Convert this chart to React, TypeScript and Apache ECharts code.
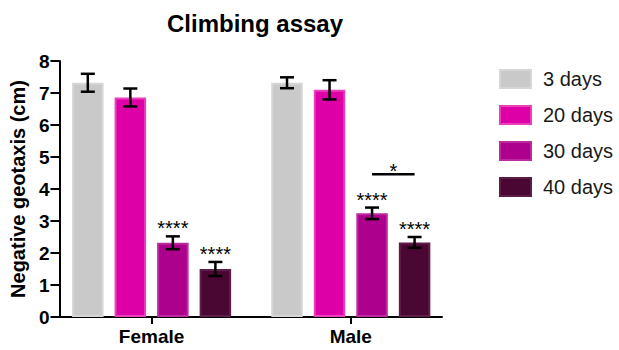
import React, { useEffect, useRef } from "react";
import * as echarts from "echarts";

const categories = ["Female", "Male"];
const seriesNames = ["3 days", "20 days", "30 days", "40 days"];
const meanValues = [
  [7.32, 7.32],
  [6.86, 7.1],
  [2.32, 3.24],
  [1.5, 2.33],
];
const errorValues = [
  [0.28, 0.17],
  [0.28, 0.3],
  [0.2, 0.18],
  [0.22, 0.17],
];
const starLabels = [
  ["", ""],
  ["", ""],
  ["****", "****"],
  ["****", "****"],
];
// comparison: [categoryIndex, seriesA, seriesB, y value, label]
const comparisons: [number, number, number, number, string][] = [[1, 2, 3, 4.46, "*"]];
const yMin = 0;
const yMax = 8;
const yInterval = 1;

const fillColors = ["#c9c9c9", "#de00a6", "#ad008c", "#4b0734"];
const borderColors = ["#d6d6d6", "#e93fbb", "#bb2a9e", "#5c1e47"];

const BAR_WIDTH = 31.5;
const BAR_GAP = 0.35;
const PITCH = BAR_WIDTH * (1 + BAR_GAP);
const FONT = "'Liberation Sans', Arial, Helvetica, sans-serif";

function offsetFor(s: number) {
  return (s - (seriesNames.length - 1) / 2) * PITCH;
}

export default function App() {
  const ref = useRef<HTMLDivElement>(null);
  useEffect(() => {
    if (!ref.current) return;
    const chart = echarts.init(ref.current, undefined, { renderer: "svg" });

    const barSeries = seriesNames.map((name, s) => ({
      name,
      type: "bar",
      xAxisIndex: 0,
      yAxisIndex: 0,
      data: meanValues[s],
      barWidth: BAR_WIDTH,
      barGap: `${BAR_GAP * 100}%`,
      itemStyle: { color: fillColors[s], borderColor: borderColors[s], borderWidth: 2 },
      z: 2,
    }));

    const errData: any[] = [];
    seriesNames.forEach((_, s) => {
      categories.forEach((_c, c) => {
        errData.push([c, s, meanValues[s][c], errorValues[s][c], starLabels[s][c]]);
      });
    });

    const errorSeries = {
      type: "custom",
      name: "errors",
      xAxisIndex: 0,
      yAxisIndex: 0,
      data: errData,
      encode: { x: 0, y: 2 },
      z: 5,
      renderItem: (params: any, api: any) => {
        const c = api.value(0);
        const s = api.value(1);
        const m = api.value(2);
        const e = api.value(3);
        const label = errData[params.dataIndex][4];
        const top = api.coord([c, m + e]);
        const bot = api.coord([c, m - e]);
        const x = top[0] + offsetFor(s);
        const cap = 7;
        const ls = { stroke: "#000", lineWidth: 2.5 };
        const children: any[] = [
          { type: "line", shape: { x1: x, y1: top[1], x2: x, y2: bot[1] }, style: ls },
          { type: "line", shape: { x1: x - cap, y1: top[1], x2: x + cap, y2: top[1] }, style: ls },
          { type: "line", shape: { x1: x - cap, y1: bot[1], x2: x + cap, y2: bot[1] }, style: ls },
        ];
        if (label) {
          children.push({
            type: "text",
            style: {
              text: label,
              x,
              y: top[1] + 2,
              align: "center",
              verticalAlign: "bottom",
              fontSize: 20,
              fontFamily: FONT,
              fill: "#000",
            },
          });
        }
        return { type: "group", children };
      },
    };

    const compSeries = {
      type: "custom",
      name: "comparisons",
      xAxisIndex: 0,
      yAxisIndex: 0,
      data: comparisons.map((d) => [d[0], d[1], d[2], d[3]]),
      encode: { x: 0, y: 3 },
      z: 5,
      renderItem: (params: any, api: any) => {
        const comp = comparisons[params.dataIndex];
        const p = api.coord([comp[0], comp[3]]);
        const x1 = p[0] + offsetFor(comp[1]);
        const x2 = p[0] + offsetFor(comp[2]);
        return {
          type: "group",
          children: [
            { type: "line", shape: { x1, y1: p[1], x2, y2: p[1] }, style: { stroke: "#000", lineWidth: 2.5 } },
            {
              type: "text",
              style: {
                text: comp[4],
                x: (x1 + x2) / 2,
                y: p[1] + 7,
                align: "center",
                verticalAlign: "bottom",
                fontSize: 20,
                fontFamily: FONT,
                fill: "#000",
              },
            },
          ],
        };
      },
    };

    chart.setOption({
      animation: false,
      backgroundColor: "#ffffff",
      textStyle: { fontFamily: FONT },
      title: {
        text: "Climbing assay",
        left: 250,
        top: 6,
        textAlign: "center",
        textStyle: { fontSize: 24, fontWeight: "bold", color: "#000", fontFamily: FONT },
      },
      legend: {
        data: seriesNames,
        orient: "vertical",
        left: 494,
        top: 64,
        itemWidth: 31,
        itemHeight: 18,
        itemGap: 16,
        icon: "rect",
        textStyle: { fontSize: 20, color: "#1a1a1a", fontFamily: FONT, padding: [0, 0, 0, 7] },
      },
      grid: [
        { left: 52, top: 61, width: 398.4, height: 256, containLabel: false },
        { left: 59, top: 61, width: 383, height: 256, containLabel: false },
      ],
      xAxis: [
        {
          type: "category",
          gridIndex: 0,
          data: categories,
          axisLine: { show: false },
          axisTick: { show: true, alignWithLabel: true, length: 7, lineStyle: { color: "#000", width: 2 } },
          axisLabel: { fontSize: 19, fontWeight: "bold", color: "#000", margin: 10, fontFamily: FONT },
        },
        {
          type: "value",
          gridIndex: 1,
          min: 0,
          max: 1,
          axisLine: { show: true, onZero: false, lineStyle: { color: "#000", width: 2 } },
          axisTick: { show: false },
          axisLabel: { show: false },
          splitLine: { show: false },
        },
      ],
      yAxis: [
        {
          type: "value",
          gridIndex: 0,
          min: yMin,
          max: yMax,
          interval: yInterval,
          show: false,
        },
        {
          type: "value",
          gridIndex: 1,
          min: yMin,
          max: yMax,
          interval: yInterval,
          name: "Negative geotaxis (cm)",
          nameLocation: "middle",
          nameGap: 23,
          nameTextStyle: { fontSize: 20, fontWeight: "bold", color: "#000", fontFamily: FONT },
          axisLine: { show: true, lineStyle: { color: "#000", width: 2 } },
          axisTick: { show: true, length: 9, lineStyle: { color: "#000", width: 2 } },
          axisLabel: { fontSize: 19, fontWeight: "bold", color: "#000", margin: 10, fontFamily: FONT },
          splitLine: { show: false },
        },
      ],
      series: [...barSeries, errorSeries, compSeries],
    });

    return () => chart.dispose();
  }, []);

  return (
    <div style={{ position: "fixed", left: 0, top: 0, width: 619, height: 350, background: "#fff" }}>
      <div ref={ref} style={{ width: 619, height: 350 }} />
    </div>
  );
}
